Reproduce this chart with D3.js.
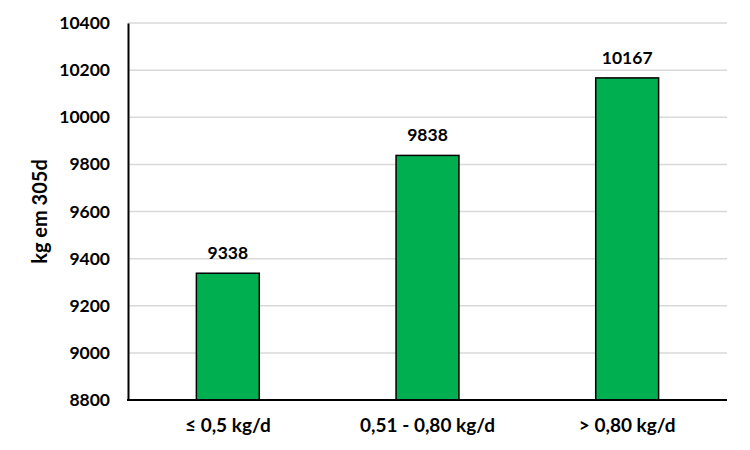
<!DOCTYPE html>
<html><head><meta charset="utf-8">
<script src="https://cdn.jsdelivr.net/npm/d3@7"></script>
<style>body{margin:0;background:#fff;} text{font-family:"Lato","Open Sans",sans-serif;font-weight:bold;fill:#000;}</style>
</head><body><svg id="c" width="750" height="450"></svg>
<script>
const categories = ["≤ 0,5 kg/d", "0,51 - 0,80 kg/d", "> 0,80 kg/d"];
const values = [9338, 9838, 10167];
const yTicks = [8800, 9000, 9200, 9400, 9600, 9800, 10000, 10200, 10400];
const yTitle = "kg em 305d";

const svg = d3.select("#c");
const pL = 128, pR = 727, pT = 23, pB = 400;
const x = d3.scaleBand().domain(categories).range([pL, pR]).paddingInner(0.685).paddingOuter(0.3425);
const y = d3.scaleLinear().domain([8800, 10400]).range([pB, pT]);

// gridlines
svg.append("g").selectAll("line").data(yTicks.slice(1)).join("line")
  .attr("x1", pL).attr("x2", pR).attr("y1", d => y(d)).attr("y2", d => y(d))
  .attr("stroke", "#d9d9d9").attr("stroke-width", 1.5);

// bars
svg.append("g").selectAll("rect").data(values).join("rect")
  .attr("x", (d, i) => x(categories[i])).attr("width", x.bandwidth())
  .attr("y", d => y(d)).attr("height", d => y(8800) - y(d))
  .attr("fill", "#00B050").attr("stroke", "#000").attr("stroke-width", 1.5);

// value labels
svg.append("g").selectAll("text").data(values).join("text")
  .attr("x", (d, i) => x(categories[i]) + x.bandwidth() / 2).attr("y", d => y(d) - 14)
  .attr("text-anchor", "middle").attr("font-size", 17.5).text(d => d);

// y axis
const yAxis = d3.axisLeft(y).tickValues(yTicks).tickSize(0).tickPadding(18).tickFormat(d3.format("d"));
const gy = svg.append("g").attr("transform", `translate(${pL},0)`).call(yAxis);
gy.select(".domain").attr("stroke", "#000").attr("stroke-width", 2);
gy.selectAll("text").attr("font-size", 17.5).style("font-family", "Lato, 'Open Sans', sans-serif").style("font-weight", "bold");

// x axis
const xAxis = d3.axisBottom(x).tickSize(0).tickPadding(19);
const gx = svg.append("g").attr("transform", `translate(0,${pB})`).call(xAxis);
gx.select(".domain").attr("stroke", "#000").attr("stroke-width", 2).attr("d", `M${pL-1},0H${pR}`);
gx.selectAll("text").attr("font-size", 19).style("font-family", "Lato, 'Open Sans', sans-serif").style("font-weight", "bold");

// y title
svg.append("text").attr("transform", `translate(47,${(pT + pB) / 2}) rotate(-90)`)
  .attr("text-anchor", "middle").attr("font-size", 20).text(yTitle);
</script></body></html>
